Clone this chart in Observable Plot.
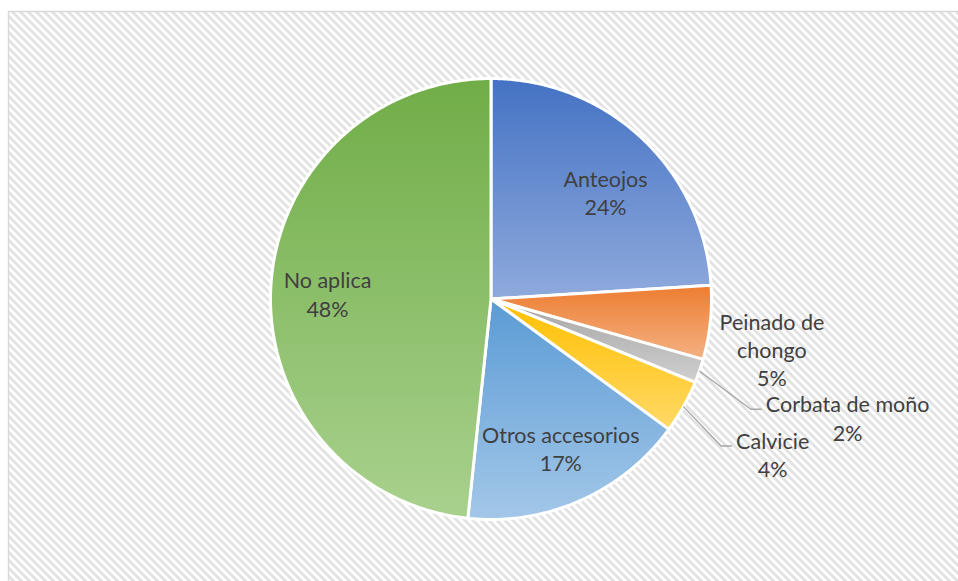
<!DOCTYPE html>
<html>
<head>
<meta charset="utf-8">
<script src="https://cdn.jsdelivr.net/npm/d3@7"></script>
<script src="https://cdn.jsdelivr.net/npm/@observablehq/plot@0.6"></script>
<style>
  html, body { margin: 0; padding: 0; background: #ffffff; }
  #chart { width: 958px; height: 581px; }
</style>
</head>
<body>
<div id="chart"></div>
<script>
// ---- data ----
const categories = ["Anteojos", "Peinado de chongo", "Corbata de moño", "Calvicie", "Otros accesorios", "No aplica"];
const values = [24.0, 5.4, 1.75, 3.9, 16.6, 48.3];

// ---- styles ----
const colorTop = ["#4472c4", "#ed7d31", "#a5a5a5", "#ffc000", "#5b9bd5", "#70ad47"];
const colorBottom = ["#8faadc", "#f4b183", "#cfcfcf", "#ffd966", "#a3c7e8", "#a9d18e"];

// ---- label layout (relative to each slice) ----
const labelRadius = [0.711, 1.294, 1.704, 1.458, 0.747, 0.742];
const labelAngleShift = [3.7, 3.9, -0.7, -0.4, -1.2, -1.1];
const labelWrap = [false, true, false, false, false, false];
const labelLeader = [false, false, true, true, false, false];

// ---- layout ----
const W = 958, H = 581;
const cx = 490.5, cy = 298.5, R = 220.5;
const fontSize = 21.5;
const fontFamily = "Lato, 'Open Sans', sans-serif";

const total = d3.sum(values);
let acc = 0;
const slices = categories.map((c, i) => {
  const a0 = acc / total * 2 * Math.PI;
  acc += values[i];
  const a1 = acc / total * 2 * Math.PI;
  return {c, i, v: values[i], pct: Math.round(values[i] / total * 100), a0, a1, mid: (a0 + a1) / 2};
});

function slicePoints(s) {
  const pts = [{x: 0, y: 0}];
  const n = Math.max(2, Math.ceil((s.a1 - s.a0) / (Math.PI / 360)));
  for (let k = 0; k <= n; k++) {
    const a = s.a0 + (s.a1 - s.a0) * k / n;
    pts.push({x: Math.sin(a), y: Math.cos(a)});
  }
  pts.push({x: 0, y: 0});
  return pts;
}

const ctx = document.createElement("canvas").getContext("2d");
ctx.font = `${fontSize}px Lato`;

const labels = slices.map(s => {
  const a = s.mid + labelAngleShift[s.i] * Math.PI / 180;
  const r = labelRadius[s.i];
  let name = s.c;
  if (labelWrap[s.i]) {
    const k = name.lastIndexOf(" ");
    name = name.slice(0, k) + "\n" + name.slice(k + 1);
  }
  return {x: r * Math.sin(a), y: r * Math.cos(a), text: name + "\n" + s.pct + "%", first: name.split("\n")[0], i: s.i};
});

const leaders = [];
labels.forEach(l => {
  if (!labelLeader[l.i]) return;
  const s = slices[l.i];
  const w = ctx.measureText(l.first).width;
  const endX = l.x - (w / 2 + 4) / R;
  const endY = l.y + 8 / R;
  leaders.push({x: Math.sin(s.mid), y: Math.cos(s.mid), z: l.i});
  leaders.push({x: endX - 11 / R, y: endY, z: l.i});
  leaders.push({x: endX, y: endY, z: l.i});
});

const background = () => {
  const g = d3.create("svg:g");
  const defs = g.append("defs");
  const pat = defs.append("pattern").attr("id", "hatch").attr("patternUnits", "userSpaceOnUse")
    .attr("width", 8).attr("height", 8);
  pat.append("rect").attr("width", 8).attr("height", 8).attr("fill", "#ffffff");
  pat.append("path").attr("d", "M0,0L2,0L8,6L8,8L6,8L0,2Z M6,0L8,0L8,2Z M0,6L2,8L0,8Z")
    .attr("fill", "#e3e3e3").attr("shape-rendering", "crispEdges");
  slices.forEach(s => {
    const lg = defs.append("linearGradient").attr("id", "grad" + s.i)
      .attr("x1", 0).attr("y1", 0).attr("x2", 0).attr("y2", 1);
    lg.append("stop").attr("offset", "0%").attr("stop-color", colorTop[s.i]);
    lg.append("stop").attr("offset", "100%").attr("stop-color", colorBottom[s.i]);
  });
  g.append("rect").attr("x", 8.5).attr("y", 11.5).attr("width", W + 20).attr("height", H + 20)
    .attr("fill", "url(#hatch)").attr("stroke", "#d9d9d9").attr("stroke-width", 1.5);
  return g.node();
};

const sliceMarks = slices.map(s => Plot.line(slicePoints(s), {
  x: "x", y: "y",
  fill: `url(#grad${s.i})`,
  stroke: "#ffffff",
  strokeWidth: 3,
  strokeLinejoin: "round"
}));

const plot = Plot.plot({
  width: W,
  height: H,
  margin: 0,
  x: {domain: [(0 - cx) / R, (W - cx) / R], axis: null},
  y: {domain: [(cy - H) / R, cy / R], axis: null},
  style: {background: "#ffffff", fontFamily},
  marks: [
    background,
    ...sliceMarks,
    Plot.line(leaders, {x: "x", y: "y", z: "z", stroke: "#a6a6a6", strokeWidth: 1.4, strokeLinejoin: "miter", strokeLinecap: "butt"}),
    Plot.text(labels, {
      x: "x", y: "y", text: "text",
      fontSize, fontFamily,
      fill: "#404040",
      lineHeight: 1.32,
      textAnchor: "middle"
    })
  ]
});
document.getElementById("chart").appendChild(plot);
</script>
</body>
</html>
